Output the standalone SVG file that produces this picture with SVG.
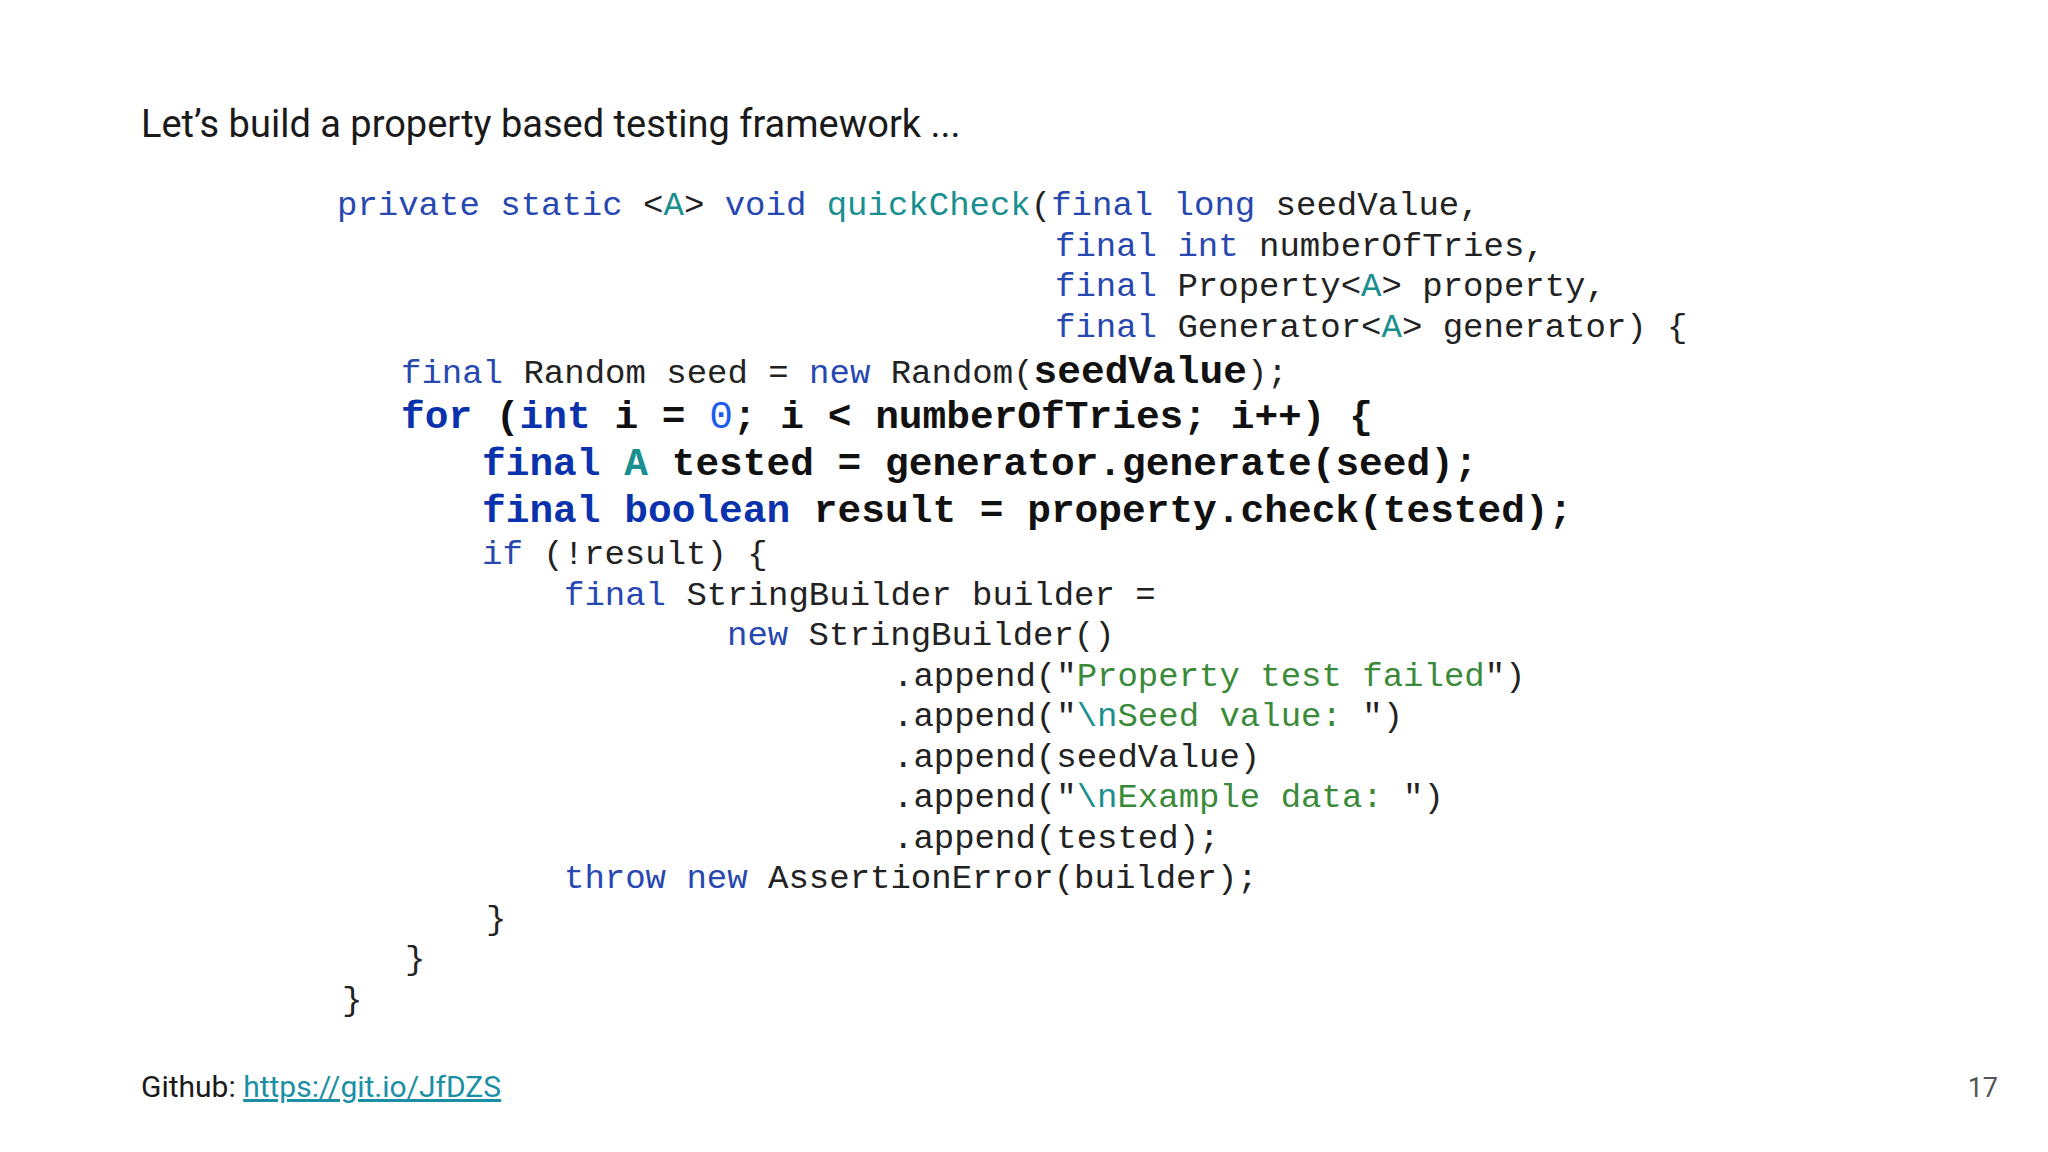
<svg xmlns="http://www.w3.org/2000/svg" width="2048" height="1152" viewBox="0 0 2048 1152">
<style>
.t{font-family:Roboto,"Liberation Sans",sans-serif;fill:#1a1a1a}
.c{font-family:"Liberation Mono","DejaVu Sans Mono",monospace;font-size:34px;fill:#222;white-space:pre}
.b{font-weight:bold;font-size:39.5px;fill:#111}
.k{fill:#2748b0}
.kb{fill:#0b32ad}
.a{fill:#1a8f8f}
.s{fill:#3a8a3a}
.n{fill:#1d5cf0}
</style>
<rect width="2048" height="1152" fill="#fff"/>
<text class="t" x="141" y="137" font-size="38">Let’s build a property based testing framework ...</text>
<g id="code" xml:space="preserve">
<text class="c" x="337" y="215"><tspan class="k">private static</tspan> &lt;<tspan class="a">A</tspan>&gt; <tspan class="k">void</tspan> <tspan class="a">quickCheck</tspan>(<tspan class="k">final long</tspan> seedValue,</text>
<text class="c" x="1055" y="256"><tspan class="k">final int</tspan> numberOfTries,</text>
<text class="c" x="1055" y="296"><tspan class="k">final</tspan> Property&lt;<tspan class="a">A</tspan>&gt; property,</text>
<text class="c" x="1055" y="337"><tspan class="k">final</tspan> Generator&lt;<tspan class="a">A</tspan>&gt; generator) {</text>
<text class="c" x="401" y="383"><tspan class="k">final</tspan> Random seed = <tspan class="k">new</tspan> Random(<tspan class="b">seedValue</tspan>);</text>
<text class="c b" x="401" y="428"><tspan class="kb">for</tspan> (<tspan class="kb">int</tspan> i = <tspan class="n" font-weight="normal">0</tspan>; i &lt; numberOfTries; i++) {</text>
<text class="c b" x="482" y="475"><tspan class="kb">final</tspan> <tspan class="a">A</tspan> tested = generator.generate(seed);</text>
<text class="c b" x="482" y="522"><tspan class="kb">final boolean</tspan> result = property.check(tested);</text>
<text class="c" x="482" y="564"><tspan class="k">if</tspan> (!result) {</text>
<text class="c" x="564" y="605"><tspan class="k">final</tspan> StringBuilder builder =</text>
<text class="c" x="727" y="645"><tspan class="k">new</tspan> StringBuilder()</text>
<text class="c" x="893" y="686">.append("<tspan class="s">Property test failed</tspan>")</text>
<text class="c" x="893" y="726">.append("<tspan class="a">\n</tspan><tspan class="s">Seed value: </tspan>")</text>
<text class="c" x="893" y="767">.append(seedValue)</text>
<text class="c" x="893" y="807">.append("<tspan class="a">\n</tspan><tspan class="s">Example data: </tspan>")</text>
<text class="c" x="893" y="848">.append(tested);</text>
<text class="c" x="564" y="888"><tspan class="k">throw new</tspan> AssertionError(builder);</text>
<text class="c" x="486" y="929">}</text>
<text class="c" x="405" y="969">}</text>
<text class="c" x="342" y="1010">}</text>
</g>
<text class="t" x="141" y="1097" font-size="30">Github: <tspan fill="#1a8fa5" text-decoration="underline">https://git.io/JfDZS</tspan></text>
<text class="t" x="1998" y="1097" font-size="27" text-anchor="end" style="fill:#555">17</text>
</svg>
